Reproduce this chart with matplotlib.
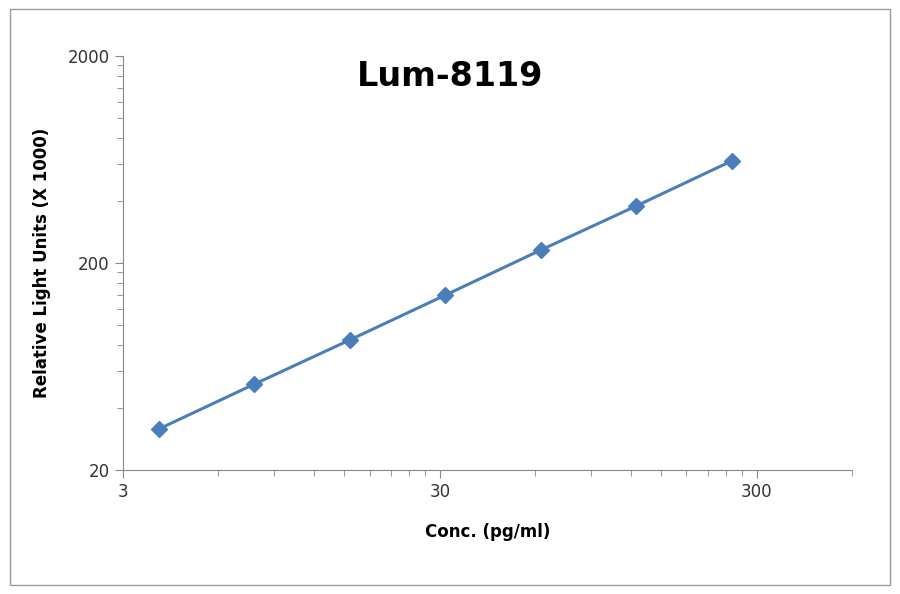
import matplotlib
matplotlib.use("Agg")
import matplotlib.pyplot as plt
from matplotlib.ticker import FixedLocator, FixedFormatter, NullFormatter
from matplotlib.patches import Rectangle

conc = [3.9, 7.8, 15.6, 31.25, 62.5, 125, 250]
rlu = [31.6, 52, 85, 140, 231, 377, 622]
x_ticks = [3, 30, 300]
y_ticks = [20, 200, 2000]

# Excel-style minor ticks: multiples of the decade start
x_minor = [3 * k * 10 ** n for n in range(2) for k in range(2, 10)] + [600]
y_minor = [20 * k * 10 ** n for n in range(2) for k in range(2, 10)]

fig = plt.figure(figsize=(9, 5.94), dpi=100)
fig.patches.append(Rectangle((0.011, 0.015), 0.978, 0.97, transform=fig.transFigure,
                             fill=False, edgecolor="#9a9a9a", linewidth=1))
ax = fig.add_axes([123 / 900, 1 - 470 / 594, (852 - 123) / 900, (470 - 56) / 594])

ax.plot(conc, rlu, color="#4a7ebb", linewidth=2.2, marker="D", markersize=8)
ax.set_xscale("log")
ax.set_yscale("log")
ax.set_xlim(3, 600)
ax.set_ylim(20, 2000)

ax.xaxis.set_major_locator(FixedLocator(x_ticks))
ax.xaxis.set_major_formatter(FixedFormatter([str(v) for v in x_ticks]))
ax.xaxis.set_minor_locator(FixedLocator(x_minor))
ax.xaxis.set_minor_formatter(NullFormatter())
ax.yaxis.set_major_locator(FixedLocator(y_ticks))
ax.yaxis.set_major_formatter(FixedFormatter([str(v) for v in y_ticks]))
ax.yaxis.set_minor_locator(FixedLocator(y_minor))
ax.yaxis.set_minor_formatter(NullFormatter())

for s in ["top", "right"]:
    ax.spines[s].set_visible(False)
for s in ["left", "bottom"]:
    ax.spines[s].set_color("#888888")
ax.tick_params(which="major", length=6, color="#888888", labelsize=12, labelcolor="#333333")
ax.tick_params(which="minor", length=4, color="#888888")

ax.set_xlabel("Conc. (pg/ml)", fontsize=12, fontweight="bold", labelpad=16)
ax.set_ylabel("Relative Light Units (X 1000)", fontsize=12, fontweight="bold", labelpad=12)
ax.text(0.449, 0.95, "Lum-8119", transform=ax.transAxes, fontsize=24, fontweight="bold",
        ha="center", va="center")

fig.savefig("out.png", dpi=100)
